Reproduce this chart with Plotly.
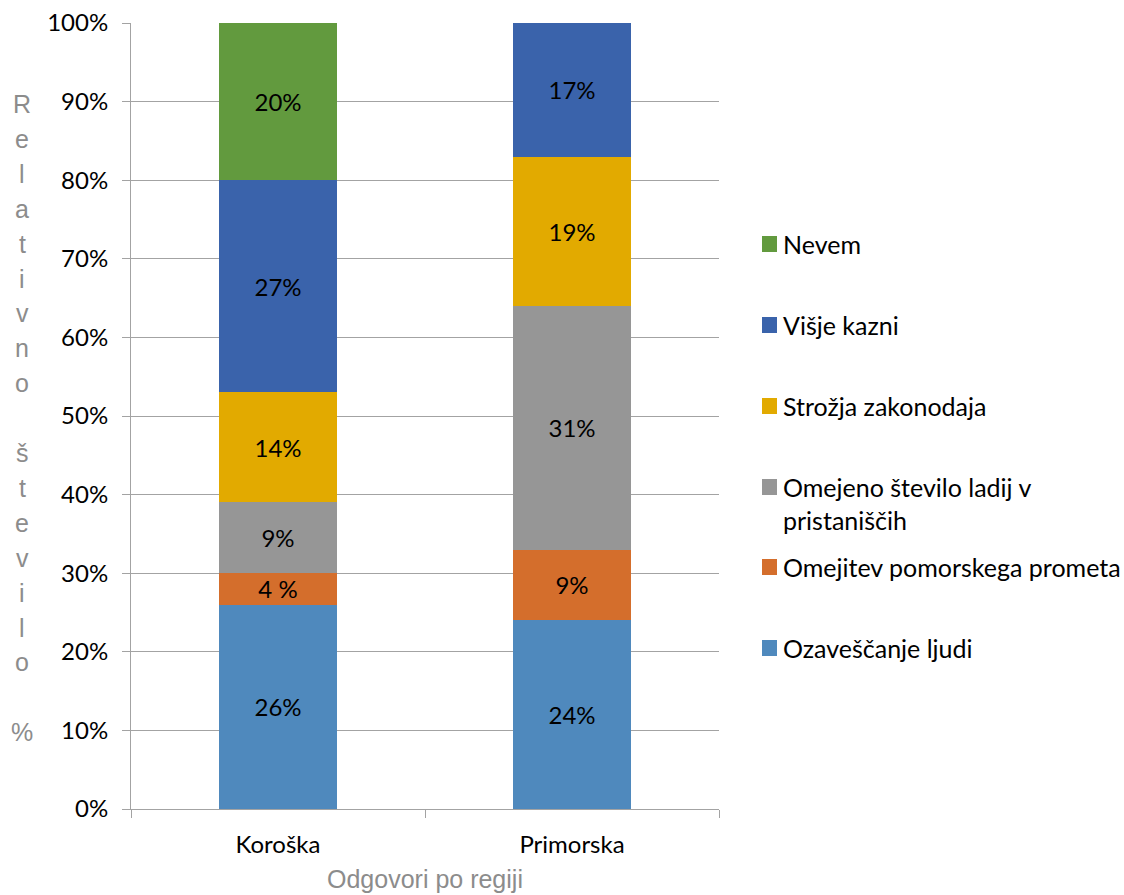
import plotly.graph_objects as go

# Regions and answer shares (percent of respondents)
categories = ["Koroška", "Primorska"]
ozavescanje = [26, 24]
omejitev = [4, 9]
omejeno = [9, 31]
strozja = [14, 19]
visje = [27, 17]
nevem = [20, None]

omejitev_text = ["4 %", "9%"]

y_tick_values = [0, 10, 20, 30, 40, 50, 60, 70, 80, 90, 100]
y_tick_labels = ["0%", "10%", "20%", "30%", "40%", "50%",
                 "60%", "70%", "80%", "90%", "100%"]

series = [
    ("Ozaveščanje ljudi", ozavescanje, "#4F89BD", None),
    ("Omejitev pomorskega prometa", omejitev, "#D46E2C", omejitev_text),
    ("Omejeno število ladij v pristaniščih", omejeno, "#969696", None),
    ("Strožja zakonodaja", strozja, "#E2AA00", None),
    ("Višje kazni", visje, "#3A63AB", None),
    ("Nevem", nevem, "#629A3E", None),
]

W, H = 1124, 895
L, R, T, B = 131, 719, 23, 809  # plot area edges in pixels

LABEL_FONT = "Lato"
AXIS_TITLE_FONT = "Liberation Sans"
GRID = "#A3A3A3"


def px_x(px):
    return (px - L) / (R - L)


def px_y(py):
    return (B - py) / (B - T)


fig = go.Figure()
for name, vals, color, txt in series:
    labels = txt if txt is not None else [
        "" if v is None else f"{v}%" for v in vals
    ]
    fig.add_trace(go.Bar(
        x=categories,
        y=vals,
        name=name,
        marker=dict(color=color, line=dict(width=0)),
        text=labels,
        textposition="inside",
        insidetextanchor="middle",
        textangle=0,
        constraintext="none",
        textfont=dict(family=LABEL_FONT, size=24, color="#000000"),
        showlegend=False,
    ))

# Legend drawn at fixed slots on the right
legend_rows = [
    ("Nevem", "#629A3E", 244),
    ("Višje kazni", "#3A63AB", 325),
    ("Strožja zakonodaja", "#E2AA00", 406),
    ("Omejeno število ladij v<br>pristaniščih", "#969696", 487),
    ("Omejitev pomorskega prometa", "#D46E2C", 567),
    ("Ozaveščanje ljudi", "#4F89BD", 648),
]
shapes = []
annotations = []
for text, color, cy in legend_rows:
    shapes.append(dict(
        type="rect", xref="paper", yref="paper",
        x0=px_x(762), x1=px_x(777), y0=px_y(cy + 8), y1=px_y(cy - 8),
        fillcolor=color, line=dict(width=0),
    ))
    annotations.append(dict(
        xref="paper", yref="paper",
        x=px_x(781), y=px_y(cy - 17),
        xanchor="left", yanchor="top", align="left",
        text=text, showarrow=False,
        font=dict(family=LABEL_FONT, size=25, color="#000000"),
    ))

# Vertical axis title, one character per line
title_chars = list("Relativno") + [""] + list("število") + [""] + ["%"]
for i, ch in enumerate(title_chars):
    if not ch:
        continue
    annotations.append(dict(
        xref="paper", yref="paper",
        x=px_x(22), y=px_y(104 + i * 34.9),
        xanchor="center", yanchor="middle",
        text=ch, showarrow=False,
        font=dict(family=AXIS_TITLE_FONT, size=25, color="#8C8C8C"),
    ))

# Horizontal axis title
annotations.append(dict(
    xref="paper", yref="paper",
    x=0.5, y=px_y(895),
    xanchor="center", yanchor="bottom",
    text="Odgovori po regiji", showarrow=False,
    font=dict(family=AXIS_TITLE_FONT, size=25, color="#8C8C8C"),
))

fig.update_layout(
    barmode="stack",
    bargap=0.6,
    width=W, height=H, autosize=False,
    margin=dict(l=L, r=W - R, t=T, b=H - B, pad=0),
    paper_bgcolor="#FFFFFF",
    plot_bgcolor="#FFFFFF",
    showlegend=False,
    shapes=shapes,
    annotations=annotations,
    hovermode=False,
)
fig.update_yaxes(
    range=[0, 100],
    tickmode="array",
    tickvals=y_tick_values,
    ticktext=y_tick_labels,
    automargin=False,
    showgrid=True, gridcolor=GRID, gridwidth=1,
    showline=True, linecolor=GRID, linewidth=1,
    ticks="outside", ticklen=8, tickcolor=GRID,
    ticklabelstandoff=9,
    tickfont=dict(family=LABEL_FONT, size=24, color="#000000"),
    zeroline=False,
)
fig.update_xaxes(
    automargin=False,
    showline=True, linecolor=GRID, linewidth=1,
    ticks="outside", ticklen=8, tickcolor=GRID,
    tickson="boundaries",
    ticklabelstandoff=14,
    tickfont=dict(family=LABEL_FONT, size=24, color="#000000"),
    showgrid=False,
)

fig.write_html("out.html")
